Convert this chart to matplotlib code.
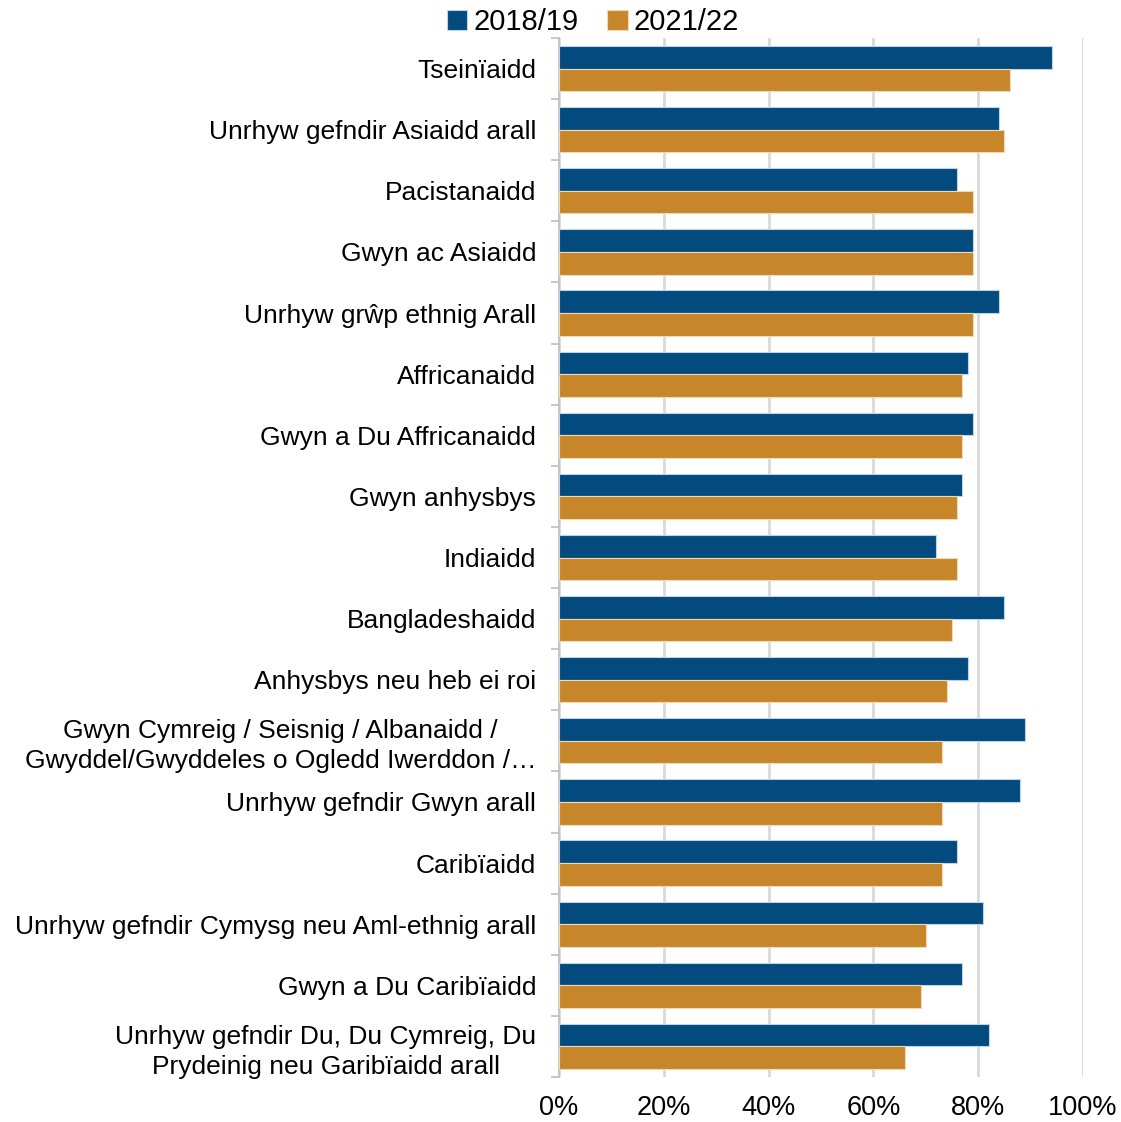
import matplotlib
matplotlib.use("Agg")
import matplotlib.pyplot as plt
import numpy as np
from matplotlib.ticker import FixedLocator, FuncFormatter

plt.rcParams['font.family'] = ['Liberation Sans', 'DejaVu Sans']

categories = [
    "Tseinïaidd",
    "Unrhyw gefndir Asiaidd arall",
    "Pacistanaidd",
    "Gwyn ac Asiaidd",
    "Unrhyw grŵp ethnig Arall",
    "Affricanaidd",
    "Gwyn a Du Affricanaidd",
    "Gwyn anhysbys",
    "Indiaidd",
    "Bangladeshaidd",
    "Anhysbys neu heb ei roi",
    "Gwyn Cymreig / Seisnig / Albanaidd /\nGwyddel/Gwyddeles o Ogledd Iwerddon /…",
    "Unrhyw gefndir Gwyn arall",
    "Caribïaidd",
    "Unrhyw gefndir Cymysg neu Aml-ethnig arall",
    "Gwyn a Du Caribïaidd",
    "Unrhyw gefndir Du, Du Cymreig, Du\nPrydeinig neu Garibïaidd arall",
]
series_names = ["2018/19", "2021/22"]
values_2018_19 = [94, 84, 76, 79, 84, 78, 79, 77, 72, 85, 78, 89, 88, 76, 81, 77, 82]
values_2021_22 = [86, 85, 79, 79, 79, 77, 77, 76, 76, 75, 74, 73, 73, 73, 70, 69, 66]
x_ticks = [0, 20, 40, 60, 80, 100]

blue = "#034A7E"
orange = "#C8862A"

fig = plt.figure(figsize=(11.21, 11.22), dpi=100)
top_px, bot_px = 38, 1077
ax = fig.add_axes([559/1121, 1 - bot_px/1122, (1083-559)/1121, (bot_px-top_px)/1122])

n = len(categories)
y = np.arange(n)
h = 0.37
ax.barh(y - h/2, values_2018_19, height=h, color=blue, edgecolor="#BFD3E6", linewidth=0.8,
        label=series_names[0], zorder=3)
ax.barh(y + h/2, values_2021_22, height=h, color=orange, edgecolor="#F0D9B5", linewidth=0.8,
        label=series_names[1], zorder=3)

ax.set_ylim(n - 0.5, -0.5)
ax.set_xlim(0, 100)
ax.xaxis.set_major_locator(FixedLocator(x_ticks))
ax.xaxis.set_major_formatter(FuncFormatter(lambda v, p: f"{int(v)}%"))
ax.grid(axis='x', color="#D9D9D9", linewidth=2, zorder=0)
ax.set_axisbelow(True)

ax.set_yticks(y)
ax.set_yticklabels(categories, fontsize=19)
for lab in ax.get_yticklabels():
    lab.set_multialignment('center')
    lab.set_linespacing(1.3)
ax.set_yticks(np.arange(n + 1) - 0.5, minor=True)
ax.tick_params(axis='y', which='major', length=0, pad=16.5)
ax.tick_params(axis='y', which='minor', length=6, color="#BFBFBF", width=1.2)
ax.tick_params(axis='x', length=0, labelsize=19.5, pad=13)

for s in ['top', 'right', 'bottom']:
    ax.spines[s].set_visible(False)
ax.spines['left'].set_color("#BFBFBF")
ax.spines['left'].set_linewidth(1.2)

handles, labels = ax.get_legend_handles_labels()
leg = fig.legend(handles, labels, loc='center', bbox_to_anchor=(593/1121, 1 - 22/1122),
                 ncol=2, frameon=False, fontsize=21, handlelength=0.7, handleheight=0.7,
                 handletextpad=0.2, columnspacing=1.0)

fig.savefig("out.png", dpi=100)
